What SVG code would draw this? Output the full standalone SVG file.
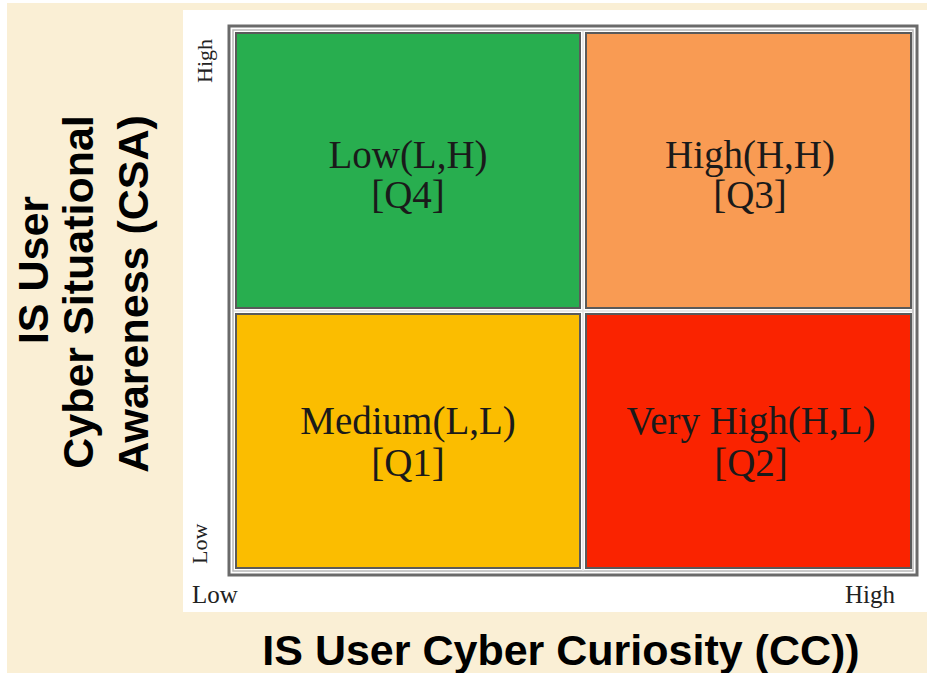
<svg xmlns="http://www.w3.org/2000/svg" width="927" height="673" viewBox="0 0 927 673">
<style>
.cell{stroke:#5a5a5a;stroke-width:2}
.q{font-family:"Liberation Serif",serif;font-size:39px;fill:#1a1a1a;text-anchor:middle}
.ax{font-family:"Liberation Serif",serif;font-size:25px;fill:#222}
.axr{font-family:"Liberation Serif",serif;font-size:22px;fill:#222}
.t{font-family:"Liberation Sans",Arial,sans-serif;font-weight:bold;font-size:43px;fill:#000;text-anchor:middle}
</style>
<rect x="0" y="0" width="927" height="673" fill="#ffffff"/>
<rect x="7" y="3" width="920" height="670" fill="#faefd5"/>
<rect x="183" y="10" width="744" height="602" fill="#ffffff"/>
<g id="frame">
<rect x="229" y="26" width="688" height="549" fill="none" stroke="#6a6a6a" stroke-width="3"/>
<rect x="233" y="30" width="680" height="541" fill="none" stroke="#b8b8b8" stroke-width="1.5"/>
</g>
<g id="q4">
<rect class="cell" x="236" y="33" width="344" height="275" fill="#28ae4f"/>
<text class="q" x="408" y="168">Low(L,H)</text>
<text class="q" x="408" y="208">[Q4]</text>
</g>
<g id="q3">
<rect class="cell" x="586" y="33" width="325" height="275" fill="#f99b53"/>
<text class="q" x="750" y="168">High(H,H)</text>
<text class="q" x="750" y="208">[Q3]</text>
</g>
<g id="q1">
<rect class="cell" x="236" y="314" width="344" height="254" fill="#fbbd00"/>
<text class="q" x="408" y="434">Medium(L,L)</text>
<text class="q" x="408" y="476">[Q1]</text>
</g>
<g id="q2">
<rect class="cell" x="586" y="314" width="325" height="254" fill="#fa2300"/>
<text class="q" x="751" y="434">Very High(H,L)</text>
<text class="q" x="751" y="476">[Q2]</text>
</g>
<g id="connectors">
<line x1="583" y1="31" x2="583" y2="571" stroke="#e0e0e0" stroke-width="1.5"/>
<line x1="234" y1="311" x2="912" y2="311" stroke="#e0e0e0" stroke-width="1.5"/>
</g>
<g id="axes">
<text class="axr" transform="translate(212,83) rotate(-90)">High</text>
<text class="axr" transform="translate(207,564) rotate(-90)">Low</text>
<text class="ax" x="192" y="603">Low</text>
<text class="ax" x="845" y="603">High</text>
</g>
<g id="titles">
<text class="t" transform="translate(48,270) rotate(-90)">IS User</text>
<text class="t" transform="translate(93,292) rotate(-90)">Cyber Situational</text>
<text class="t" transform="translate(148,294) rotate(-90)">Awareness (CSA)</text>
<text class="t" x="561" y="665">IS User Cyber Curiosity (CC))</text>
</g>
</svg>
